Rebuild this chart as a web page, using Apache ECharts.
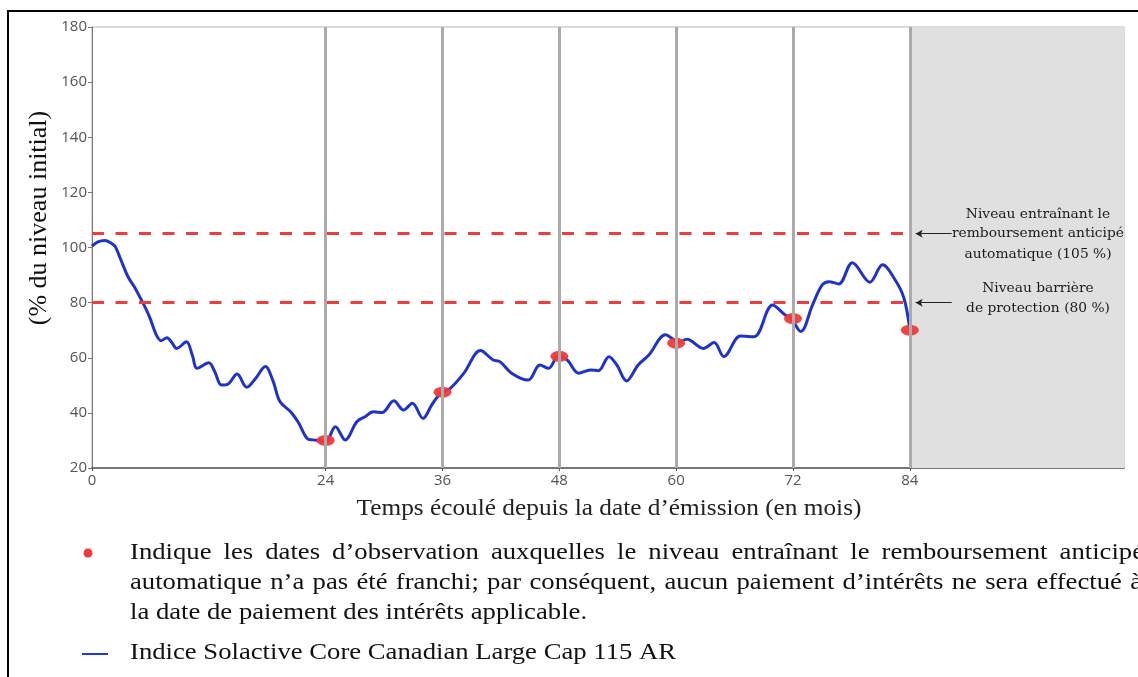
<!DOCTYPE html>
<html lang="fr">
<head>
<meta charset="utf-8">
<title>Indice Solactive Core Canadian Large Cap 115 AR</title>
<script src="https://cdn.jsdelivr.net/npm/echarts@6.0.0/dist/echarts.min.js"></script>
<style>
  html, body { margin: 0; padding: 0; background: #fff; }
  #main { width: 1138px; height: 677px; }
</style>
</head>
<body>
<div id="main"></div>
<script>
// mois écoulés / niveau de l'indice (% du niveau initial)
var months = [0, 0.6, 1.3, 2.0, 2.4, 2.9, 3.7, 4.3, 4.8, 5.6, 6.0, 6.6, 7.1, 7.7, 8.2, 8.7, 9.7, 10.3, 10.8, 12.0, 12.6, 13.3, 14.0, 14.9, 15.9, 16.8, 17.8, 18.6, 19.3, 20.4, 21.2, 22.1, 22.7, 23.4, 24.0,
  25.0, 26.0, 27.2, 28.0, 28.9, 29.8, 31.0, 32.0, 32.9, 34.0, 34.9, 35.8, 36.8, 38.2, 39.9, 41.2, 41.9, 43.1, 44.8, 46.0, 46.9, 47.9, 48.8, 50.0, 51.2, 52.0, 53.1, 53.9, 54.9, 56.1, 57.2, 58.9, 59.7, 60.2, 61.1, 62.8, 63.9, 64.9, 66.6, 68.0, 69.9, 71.2, 71.8, 72.8, 74.0, 75.0, 75.7, 76.7, 78.1, 79.9, 81.2, 82.5, 83.4, 84.0];
var levels = [100.5, 102, 102.5, 101.5, 100.3, 96.1, 89.4, 86, 82.8, 77.3, 74, 68.3, 66.2, 67.3, 65.5, 63.4, 65.8, 61, 56.2, 58.2, 55, 50.1, 50.5, 54.1, 49.3, 52.5, 56.8, 51.5, 44.1, 40.4, 36.5, 30.7, 30.2, 29.9, 29.5,
  35.0, 30.2, 36.8, 38.5, 40.4, 40.1, 44.4, 41.0, 43.5, 38.0, 42.9, 47.1, 48.9, 54.4, 62.6, 59.2, 58.6, 54.4, 51.9, 57.4, 56.2, 60.6, 59.2, 54.4, 55.6, 55.3, 60.4, 57.4, 51.6, 57.4, 61.0, 68.3, 66.7, 65.6, 66.7, 63.4, 65.5, 60.4, 67.9, 67.6, 79.1, 75.5, 74.3, 69.5, 79.1, 86.4, 87.6, 86.8, 94.5, 87.4, 93.7, 88.2, 81.6, 70.3];

// dates d'observation et niveau atteint
var obsMonths = [24, 36, 48, 60, 72, 84];
var obsLevels = [30, 47.5, 60.5, 65.3, 74.2, 70];

var xTicks = [0, 24, 36, 48, 60, 72, 84];
var xMax = 106;
var autocallLevel = 105;
var barrierLevel = 80;

var legendDot = 'Indique les dates d\u2019observation auxquelles le niveau entraînant le remboursement anticipé';
var legendDot2 = 'automatique n\u2019a pas été franchi; par conséquent, aucun paiement d\u2019intérêts ne sera effectué à';
var legendDot3 = 'la date de paiement des intérêts applicable.';
var legendLine = 'Indice Solactive Core Canadian Large Cap 115 AR';

var myChart = echarts.init(document.getElementById('main'));

var serifFont = 'Liberation Serif';
var stretch = 1.16; // le texte d'origine est un peu étiré en largeur

// ligne justifiée : on place chaque mot
function justified(str, x0, width, y, size) {
  var ctx = document.createElement('canvas').getContext('2d');
  ctx.font = size + 'px "' + serifFont + '"';
  var words = str.split(' ');
  var ws = words.map(function (w) { return ctx.measureText(w).width * stretch; });
  var total = ws.reduce(function (a, b) { return a + b; }, 0);
  var gap = (width - total) / (words.length - 1);
  var x = x0;
  return words.map(function (w, i) {
    var el = {
      type: 'text', x: x, y: y, scaleX: stretch, z: 100,
      style: { text: w, fontFamily: serifFont, fontSize: size, fill: '#111', textVerticalAlign: 'middle' }
    };
    x += ws[i] + gap;
    return el;
  });
}

function stext(txt, x, y, opts) {
  opts = opts || {};
  return {
    type: 'text', x: x, y: y, z: 100, scaleX: opts.sx || 1, rotation: opts.rot || 0,
    style: {
      text: txt, fontFamily: opts.font || serifFont, fontSize: opts.size || 23,
      fill: opts.color || '#111', textAlign: opts.align || 'left', textVerticalAlign: 'middle'
    }
  };
}

var noteFont = { font: 'DejaVu Serif', size: 13.8, align: 'center', color: '#1a1a1a' };

var graphics = [
  // cadre
  { type: 'line', z: 100, shape: { x1: 8, y1: 11, x2: 1138, y2: 11 }, style: { stroke: '#000', lineWidth: 2 } },
  { type: 'line', z: 100, shape: { x1: 8, y1: 10, x2: 8, y2: 677 }, style: { stroke: '#000', lineWidth: 2 } },
  stext('(% du niveau initial)', 39, 218, { rot: Math.PI / 2, size: 26, align: 'center' }),
  stext('Temps écoulé depuis la date d\u2019émission (en mois)', 609, 509, { size: 23, align: 'center', sx: 1.1, color: '#222' }),
  // annotations à droite
  stext('Niveau entraînant le', 1038, 214, noteFont),
  stext('remboursement anticipé', 1038, 233, noteFont),
  stext('automatique (105 %)', 1038, 254, noteFont),
  stext('Niveau barrière', 1038, 288, noteFont),
  stext('de protection (80 %)', 1038, 308, noteFont),
  // légende
  { type: 'circle', z: 100, shape: { cx: 88, cy: 553, r: 4.5 }, style: { fill: '#f03a3a' } },
  { type: 'line', z: 100, shape: { x1: 82, y1: 654, x2: 108, y2: 654 }, style: { stroke: '#1f3ad6', lineWidth: 2 } },
  stext(legendDot3, 130, 613, { sx: stretch }),
  stext(legendLine, 130, 653, { sx: stretch })
].concat(justified(legendDot, 130, 1014, 553, 23), justified(legendDot2, 130, 1012, 583, 23));

var option = {
  animation: false,
  grid: {
    left: 92, right: 14, top: 27, bottom: 209,
    show: true, borderColor: '#b5b5b5', borderWidth: 1,
    outerBoundsMode: 'none'
  },
  xAxis: {
    type: 'value', min: 0, max: xMax,
    axisLine: { show: true, onZero: false, lineStyle: { color: '#555', width: 1.5 } },
    axisTick: { show: true, customValues: xTicks, length: 3, lineStyle: { color: '#555' } },
    axisLabel: { customValues: xTicks, color: '#555', fontFamily: 'Open Sans', fontSize: 15, margin: 5 },
    splitLine: { show: false }
  },
  yAxis: {
    type: 'value', min: 20, max: 180, interval: 20,
    axisLine: { show: true, lineStyle: { color: '#777', width: 1 } },
    axisTick: { show: true, length: 4, lineStyle: { color: '#777' } },
    axisLabel: { color: '#555', fontFamily: 'Open Sans', fontSize: 15, margin: 5 },
    splitLine: { show: false }
  },
  graphic: graphics,
  series: [{
    // zone grisée après l'échéance + lignes verticales des observations
    type: 'line', data: [], z: 1, silent: true,
    markArea: {
      silent: true,
      itemStyle: { color: '#e0e0e0' },
      data: [[{ xAxis: 84 }, { xAxis: xMax }]]
    },
    markLine: {
      silent: true, symbol: 'none', label: { show: false },
      lineStyle: { color: '#ababab', type: 'solid', width: 3 },
      data: obsMonths.map(function (m) { return { xAxis: m }; })
    }
  }, {
    // niveaux de référence (tirets rouges)
    type: 'line', data: [], z: 2, silent: true,
    markLine: {
      silent: true, symbol: 'none', label: { show: false },
      lineStyle: { color: '#ee3d3d', type: [12, 11.5], width: 3 },
      data: [
        [{ coord: [0, autocallLevel] }, { coord: [84, autocallLevel] }],
        [{ coord: [0, barrierLevel] }, { coord: [84, barrierLevel] }]
      ]
    }
  }, {
    // flèches vers les annotations
    type: 'line', data: [], z: 2, silent: true,
    markLine: {
      silent: true, symbol: ['none', 'arrow'], symbolSize: [6, 7], label: { show: false },
      lineStyle: { color: '#222', type: 'solid', width: 1 },
      data: [
        [{ coord: [88.3, autocallLevel] }, { coord: [84.6, autocallLevel] }],
        [{ coord: [88.3, barrierLevel] }, { coord: [84.6, barrierLevel] }]
      ]
    }
  }, {
    name: 'Indice Solactive Core Canadian Large Cap 115 AR',
    type: 'line', z: 3,
    data: months.map(function (m, i) { return [m, levels[i]]; }),
    smooth: 0.35, symbol: 'none',
    lineStyle: { color: '#1f33cc', width: 3 }
  }, {
    type: 'scatter', z: 4,
    data: obsMonths.map(function (m, i) { return [m, obsLevels[i]]; }),
    symbol: 'circle', symbolSize: [18, 11],
    itemStyle: { color: '#f03a3a', opacity: 0.95 }
  }]
};

myChart.setOption(option);
</script>
</body>
</html>
